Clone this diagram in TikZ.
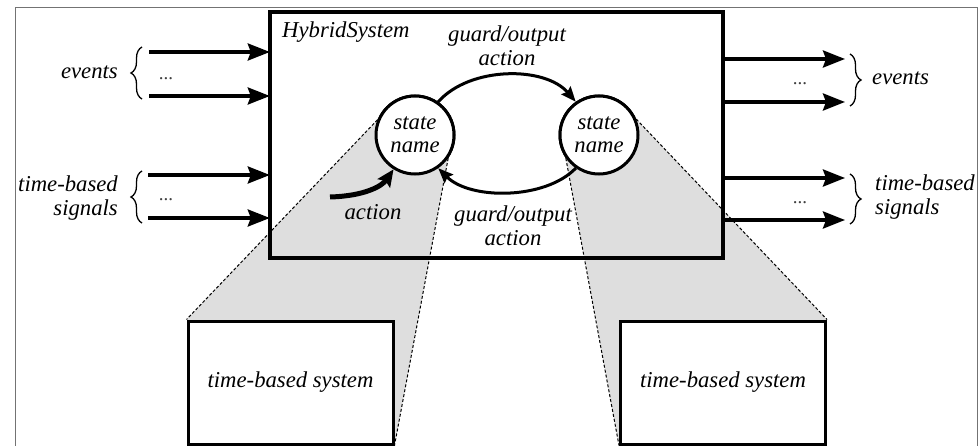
\documentclass[tikz,border=0pt]{standalone}
\usepackage{fontspec}
\setmainfont{Liberation Serif}
\usetikzlibrary{arrows.meta,decorations.pathreplacing}
\begin{document}
\begin{tikzpicture}[x=1pt,y=-1pt,
  lbl/.style={font=\fontsize{22.7}{24}\selectfont\itshape, inner sep=0pt},
  dots/.style={font=\fontsize{19}{20}\selectfont, inner sep=0pt, text=black!75},
  state/.style={circle, draw, line width=3pt, fill=white, minimum size=78pt,
    inner sep=0pt, align=center, font=\fontsize{22.7}{23}\selectfont\itshape},
  sysbox/.style={draw, line width=3pt, fill=white, minimum width=205pt,
    minimum height=123pt, inner sep=0pt, font=\fontsize{22.7}{24}\selectfont\itshape},
  boxline/.style={line width=3.5pt},
  sig/.style={line width=3.5pt, -{Stealth[length=22pt,width=17pt,inset=3pt]}},
  trans/.style={line width=3pt, -{Stealth[length=15pt,width=12pt,inset=2pt]}},
  initarrow/.style={line width=5pt, -{Stealth[length=17pt,width=15pt,inset=3pt]}},
  shade/.style={fill=black!13},
  zoomline/.style={line width=1pt, dash pattern=on 3pt off 2pt},
  bracel/.style={line width=1.3pt, decorate, decoration={brace, amplitude=11pt}},
]
\useasboundingbox (0,0) rectangle (979,446);

% outer frame
\draw[black!55, line width=1pt] (15,446) -- (15,8) -- (977,8) -- (977,446);

% hybrid system block (border drawn later, on top of the shading)
\node[minimum width=453pt, minimum height=246pt, inner sep=0pt] (hs) at (496.5,135) {};

% refinements of the two states
\node[sysbox] (LB) at (290.5,382.5) {time-based system};
\node[sysbox] (RB) at (723,382.5) {time-based system};

% state nodes (placed first so their anchors can be used)
\node[state] (L) at (415,135) {state\\name};
\node[state] (R) at (599,135) {state\\name};

% shaded projections from each state to its refinement
\fill[shade] (L.158) -- (LB.north west) -- (LB.south east) -- (L.-35) -- cycle;
\fill[shade] (R.23) -- (RB.north east) -- (RB.south west) -- (R.-145) -- cycle;
\draw[zoomline] (L.158) -- (LB.north west);
\draw[zoomline] (L.-35) -- (LB.south east);
\draw[zoomline] (R.23) -- (RB.north east);
\draw[zoomline] (R.-145) -- (RB.south west);

% redraw boxes and states over the shading
\node[sysbox] at (LB) {time-based system};
\node[sysbox] at (RB) {time-based system};
\node[state] at (L) {state\\name};
\node[state] at (R) {state\\name};

% hybrid system border
\draw[boxline] (hs.north west) rectangle (hs.south east);
\node[lbl, anchor=west] (hsname) at (282,32) {HybridSystem};

% transitions
\draw[trans] (L.55) .. controls (470,66) and (545,66) .. (R.125);
\draw[trans] (R.-125) .. controls (545,200) and (470,200) .. (L.-55);
\node[lbl, align=center] (g1) at (507,46) {guard/output\\action};
\node[lbl, align=center] (g2) at (513,226) {guard/output\\action};

% initial transition
\coordinate (init) at (330,197);
\draw[initarrow] (init) .. controls (365,196) and (382,186) .. (L.-122);
\node[lbl] (act) at (373,212) {action};

% inputs
\coordinate (e1) at (149,52);
\coordinate (e2) at (149,96);
\coordinate (t1) at (148,175);
\coordinate (t2) at (148,218);
\draw[sig] (e1) -- (e1 -| hs.west);
\draw[sig] (e2) -- (e2 -| hs.west);
\draw[sig] (t1) -- (t1 -| hs.west);
\draw[sig] (t2) -- (t2 -| hs.west);
\node[dots] (d1) at (166,79) {...};
\node[dots] (d2) at (166,200) {...};
\draw[bracel] (142,99) -- (142,47);
\draw[bracel] (142,223) -- (142,171);
\node[lbl, anchor=east] (evL) at (118,72) {events};
\node[lbl, anchor=east, align=right] (tbL) at (118,198) {time-based\\signals};

% outputs
\coordinate (o1) at (845,59);
\coordinate (o2) at (845,102);
\coordinate (o3) at (845,178);
\coordinate (o4) at (845,220);
\draw[sig] (o1 -| hs.east) -- (o1);
\draw[sig] (o2 -| hs.east) -- (o2);
\draw[sig] (o3 -| hs.east) -- (o3);
\draw[sig] (o4 -| hs.east) -- (o4);
\node[dots] (d3) at (800,84) {...};
\node[dots] (d4) at (800,203) {...};
\draw[bracel] (850,54) -- (850,106);
\draw[bracel] (850,174) -- (850,224);
\node[lbl, anchor=west] (evR) at (872,78) {events};
\node[lbl, anchor=west, align=left] (tbR) at (875,197) {time-based\\signals};
\end{tikzpicture}
\end{document}
